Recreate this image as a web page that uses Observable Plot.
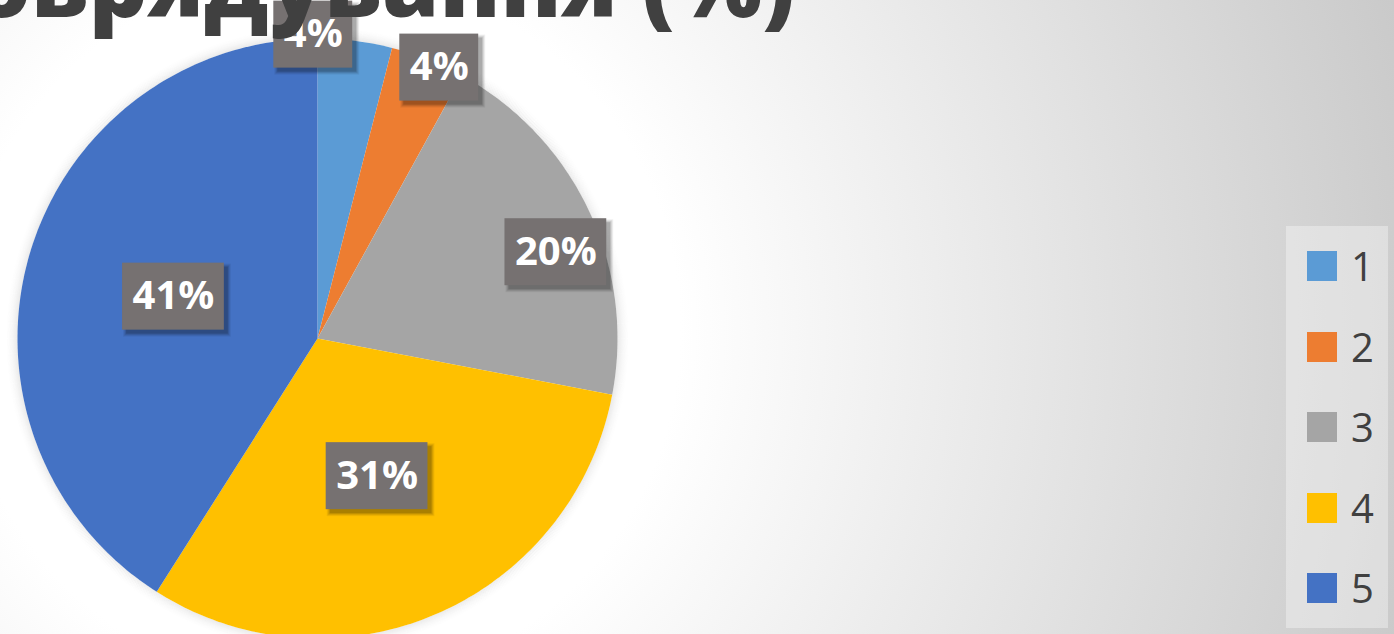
<!DOCTYPE html>
<html>
<head>
<meta charset="utf-8">
<script src="https://cdn.jsdelivr.net/npm/d3@7"></script>
<script src="https://cdn.jsdelivr.net/npm/@observablehq/plot@0.6"></script>
<style>
  html, body { margin: 0; padding: 0; width: 1394px; height: 634px; overflow: hidden; }
  #bg {
    position: absolute; left: 0; top: 0; width: 1394px; height: 634px; z-index: 0;
    background: radial-gradient(circle at 320px 330px, #ffffff 0px, #ffffff 360px, #c8c8c8 1150px);
  }
  #chart { position: absolute; left: 0; top: 0; width: 1394px; height: 634px; z-index: 1; }
  #title {
    position: absolute; right: 599px; top: -64px; z-index: 2;
    font-family: "Open Sans", sans-serif; font-weight: 800; font-size: 92px;
    line-height: 1; color: #404040; white-space: nowrap;
  }
  #legend {
    position: absolute; left: 1286px; top: 226px; width: 102px; height: 402px; z-index: 2;
    background: rgba(255,255,255,0.35); box-sizing: border-box;
    font-family: "Open Sans", sans-serif; color: #404040;
  }
  .item { display: flex; align-items: center; height: 80.5px; }
  .sw { width: 30px; height: 30px; margin-left: 21px; margin-right: 14px; }
  .lab { font-size: 40px; line-height: 1; }
</style>
</head>
<body>
<div id="bg"></div>
<div id="chart"></div>
<div id="title"></div>
<div id="legend"></div>
<script>
// ---- data ----
const categories = ["1", "2", "3", "4", "5"];
const values = [4, 4, 20, 31, 41];
const colors = ["#5B9BD5", "#ED7D31", "#A5A5A5", "#FFC000", "#4472C4"];
const labels = ["4%", "4%", "20%", "31%", "41%"];
const titleText = "самоврядування (%)";

// ---- layout (not data) ----
const W = 1394, H = 634;
const cx = 317, cy = 338, R = 300;
const labelPlace = [
  {k: 1.013, da: -8.0},
  {k: 0.99, da: 2.6},
  {k: 0.845, da: 5.3},
  {k: 0.5, da: 0},
  {k: 0.5, da: 0}
];
const labelFont = "700 40px 'Open Sans', sans-serif";

const arcs = d3.pie().sort(null).value(d => d)(values);
const slicePts = [];
arcs.forEach((a, i) => {
  const cat = categories[i];
  slicePts.push({cat, x: 0, y: 0});
  const n = Math.max(4, Math.ceil((a.endAngle - a.startAngle) / (Math.PI / 180)));
  for (let j = 0; j <= n; j++) {
    const t = a.startAngle + (a.endAngle - a.startAngle) * j / n;
    slicePts.push({cat, x: R * Math.sin(t), y: R * Math.cos(t)});
  }
  slicePts.push({cat, x: 0, y: 0});
});

const ctx = document.createElement("canvas").getContext("2d");
ctx.font = labelFont;
const labelData = arcs.map((a, i) => {
  const m = (a.startAngle + a.endAngle) / 2 + labelPlace[i].da * Math.PI / 180;
  const r = R * labelPlace[i].k;
  const x = r * Math.sin(m), y = r * Math.cos(m);
  let tw = ctx.measureText(labels[i]).width;
  if (!(tw > 0)) tw = labels[i].length * 27;
  const hw = (tw + 20) / 2, hh = 33.5;
  return {cat: categories[i], text: labels[i], x, y, x1: x - hw, x2: x + hw, y1: y - hh, y2: y + hh};
});

// soft glow rings around the pie
const glowRings = d3.range(1, 15).map(k => ({k, a: 0.10 * Math.pow(1 - k / 15, 2)}));
const shadowLayers = [[3, 0.06], [2, 0.08], [1, 0.10], [0, 0.14]];

const chart = Plot.plot({
  width: W, height: H,
  margin: 0,
  x: {domain: [-cx, W - cx], range: [0, W], axis: null},
  y: {domain: [-(H - cy), cy], range: [H, 0], axis: null},
  color: {domain: categories, range: colors},
  marks: [
    ...glowRings.map(g => Plot.dot([{x: 0, y: 0}], {x: "x", y: "y", r: R + g.k - 0.5, fill: "none", stroke: "black", strokeOpacity: g.a, strokeWidth: 1})),
    Plot.line(slicePts, {x: "x", y: "y", z: "cat", fill: "cat", stroke: "none"}),
    ...shadowLayers.map(([e, op]) => Plot.rect(labelData, {
      x1: d => d.x1 + 4 - e, x2: d => d.x2 + 4 + e,
      y1: d => d.y1 - 4 - e, y2: d => d.y2 - 4 + e,
      fill: "black", fillOpacity: op
    })),
    Plot.rect(labelData, {x1: "x1", x2: "x2", y1: "y1", y2: "y2", fill: "#767171"}),
    Plot.text(labelData, {x: "x", y: "y", text: "text", fill: "white", fontSize: 40, fontWeight: 700, fontFamily: "Open Sans, sans-serif"})
  ]
});
document.getElementById("chart").appendChild(chart);

// title
document.getElementById("title").textContent = titleText;

// legend
const leg = document.getElementById("legend");
categories.forEach((c, i) => {
  const it = document.createElement("div");
  it.className = "item";
  it.innerHTML = `<div class="sw" style="background:${colors[i]}"></div><div class="lab">${c}</div>`;
  leg.appendChild(it);
});
</script>
</body>
</html>
